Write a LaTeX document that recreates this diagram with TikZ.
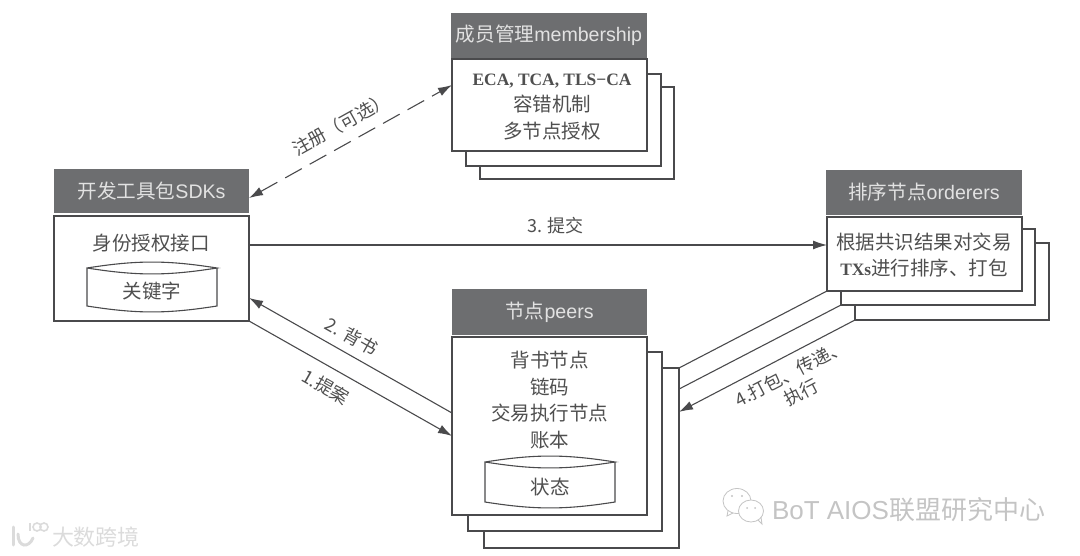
\documentclass[tikz,border=0pt]{standalone}
\usepackage{fontspec}
\setmainfont{Liberation Serif}
\setsansfont{Liberation Sans}
\newfontfamily\cjk{Noto Sans CJK SC}
\usetikzlibrary{arrows.meta,calc}
\definecolor{linec}{HTML}{4A4A4C}
\definecolor{headc}{HTML}{6D6E70}
\definecolor{headt}{HTML}{E2E2E2}
\definecolor{textc}{HTML}{4F4F4F}
\definecolor{markc}{HTML}{C4C4C4}
\tikzset{
  x=1pt,y=-1pt,
  every node/.style={inner sep=0pt,outer sep=0pt},
  boxs/.style={draw=linec,line width=1.2pt,fill=white,anchor=north west},
  head/.style={fill=headc,anchor=north west,text=headt,font=\fontsize{19.6}{22}\selectfont\sffamily},
  body/.style={text=textc,align=center,font=\fontsize{19.5}{26.7}\selectfont\cjk},
  cyl/.style={minimum width=130pt,anchor=north west},
  conn/.style={draw=linec,line width=1.1pt},
  tip/.style={-{Latex[length=14pt,width=9pt]}},
  lab/.style={text=textc,align=center,font=\fontsize{18}{22}\selectfont\cjk},
  wmark/.style={text=markc,font=\fontsize{26}{28}\selectfont\sffamily},
}
\newcommand{\latinb}[1]{{\rmfamily\bfseries\fontsize{17.4}{26.7}\selectfont #1}}
\begin{document}
\begin{tikzpicture}
\useasboundingbox (0,0) rectangle (1080,556);
% membership
\node[boxs,minimum width=194pt,minimum height=92pt] (m3) at (480,87) {};
\node[boxs,minimum width=195pt,minimum height=92pt] (m2) at (466,74) {};
\node[boxs,minimum width=195pt,minimum height=92pt] (m1) at (452,59) {};
\node[head,minimum width=196pt,minimum height=45pt] (mh) at (451,13) {{\cjk 成员管理}membership};
\node[body] (mt) at (552,107) {\latinb{ECA, TCA, TLS−CA}\\容错机制\\多节点授权};
% SDK
\node[boxs,minimum width=195pt,minimum height=105pt] (s1) at (54,216) {};
\node[head,minimum width=195pt,minimum height=44pt] (sh) at (54,169) {{\cjk 开发工具包}SDKs};
\node[body] (st) at (151,243) {身份授权接口};
% orderers
\node[boxs,minimum width=194pt,minimum height=77pt] (o3) at (855,243) {};
\node[boxs,minimum width=194pt,minimum height=76pt] (o2) at (841,229) {};
\node[boxs,minimum width=195pt,minimum height=74pt] (o1) at (827,217) {};
\node[head,minimum width=196pt,minimum height=45pt] (oh) at (826,170) {{\cjk 排序节点}orderers};
\node[body] (ot) at (924,255) {根据共识结果对交易\\\latinb{TXs}进行排序、打包};
% peers
\node[boxs,minimum width=195pt,minimum height=180pt] (p3) at (484,368) {};
\node[boxs,minimum width=194pt,minimum height=179pt] (p2) at (468,352) {};
\node[boxs,minimum width=195pt,minimum height=178pt] (p1) at (452,337) {};
\node[head,minimum width=195pt,minimum height=46pt] (ph) at (452,289) {{\cjk 节点}peers};
\node[body] (pt) at (549.5,400) {背书节点\\链码\\交易执行节点\\账本};
% cylinders
\node[cyl,minimum height=38pt] (c1) at (87,268) {};
\node[cyl,minimum height=40pt] (c2) at (485,462) {};
\foreach \c in {c1,c2}{
  \draw[conn] (\c.north west) to[bend left=9] (\c.north east) to[bend left=9] (\c.north west)
     -- (\c.south west) to[bend right=9] (\c.south east) -- (\c.north east);
}
\node[body,yshift=-4pt] (c1t) at (c1.center) {关键字};
\node[body,yshift=-5pt] (c2t) at (c2.center) {状态};
% connectors
\coordinate (sA) at ($(s1.north east)!0.276!(s1.south east)$);
\coordinate (sB) at ($(s1.north east)!0.78!(s1.south east)$);
\coordinate (sC) at ($(sh.north east)!0.66!(sh.south east)$);
\coordinate (mA) at ($(m1.north west)!0.283!(m1.south west)$);
\coordinate (pA) at ($(p1.north west)!0.427!(p1.south west)$);
\coordinate (pB) at ($(p1.north west)!0.556!(p1.south west)$);
\coordinate (qA) at ($(p3.north east)!0.117!(p3.south east)$);
\coordinate (qB) at ($(p3.north east)!0.244!(p3.south east)$);
\draw[conn,dash pattern=on 19pt off 9pt,{Latex[length=14pt,width=9pt]}-{Latex[length=14pt,width=9pt]}]
  (sC) -- node[lab,sloped,above=11pt,pos=0.5] (l0) {注册（可选）} (mA);
\draw[conn,tip] (sA) -- node[lab,above=11pt,pos=0.53] (l3) {3. 提交} (sA -| o1.west);
\draw[conn,tip] (pA) -- node[lab,sloped,above=9pt,pos=0.536] (l2) {2. 背书} (sB);
\draw[conn,tip] (s1.south east) -- node[lab,sloped,below=11pt,pos=0.425] (l1) {1.提案} (pB);
\draw[conn] (o1.south west) -- (p3.north east);
\draw[conn] (o2.south west) -- (qA);
\draw[conn,tip] (o3.south west) -- node[lab,sloped,below=9pt,pos=0.41] (l4) {4.打包、传递、\\执行} (qB);
% watermarks
\node[wmark,anchor=west] (w1) at (772,510) {BoT AIOS{\cjk 联盟研究中心}};
\node[wmark,anchor=west,text=black!14,font=\fontsize{22}{24}\selectfont\cjk] (w2) at (52,537) {大数跨境};
\draw[markc,line width=0.8pt,fill=white] (737,501) ellipse (14 and 12.5);
\draw[markc,line width=0.8pt] (728,511) -- (727,516) -- (733,513);
\draw[markc,line width=0.8pt,fill=white] (751,511) ellipse (12.5 and 11);
\draw[markc,line width=0.8pt] (758,520) -- (762,524) -- (761,517);
\fill[markc] (732,496) circle (1.1) (742,496) circle (1.1) (747,508) circle (1) (755,508) circle (1);
\draw[black!14,line width=3pt,line cap=round] (13,527) -- (13,545);
\draw[black!14,line width=3pt,line cap=round] (18,534) .. controls (18,548) and (29,548) .. (33,538);
\draw[black!14,line width=2pt] (30,523) -- (30,531);
\draw[black!14,line width=1.6pt] (37,527) circle (4) (44,527) circle (4);
\end{tikzpicture}
\end{document}
